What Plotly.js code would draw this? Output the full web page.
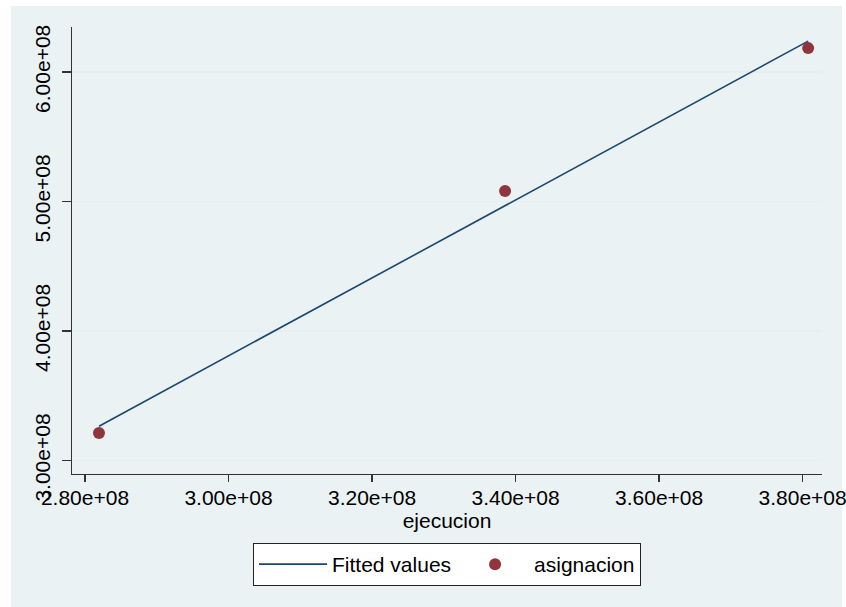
<!DOCTYPE html>
<html>
<head>
<meta charset="utf-8">
<script src="https://cdn.plot.ly/plotly-3.0.1.min.js"></script>
<style>html,body{margin:0;padding:0;background:#fff;}</style>
</head>
<body>
<div id="chart" style="width:846px;height:607px;"></div>
<script>
// Data
const ejecucion = [2.8195e8, 3.3854e8, 3.8077e8];
const asignacion = [3.214e8, 5.081e8, 6.184e8];
const fittedX = [2.8195e8, 3.3854e8, 3.8077e8];
const fittedY = [3.266e8, 4.971e8, 6.238e8];
const xTickVals = [2.8e8, 3.0e8, 3.2e8, 3.4e8, 3.6e8, 3.8e8];
const xTickText = ["2.80e+08", "3.00e+08", "3.20e+08", "3.40e+08", "3.60e+08", "3.80e+08"];
const yTickVals = [3e8, 4e8, 5e8, 6e8];
const yTickText = ["3.00e+08", "4.00e+08", "5.00e+08", "6.00e+08"];

const FONT = "Arial, 'Liberation Sans', sans-serif";
const FS = 21;
const L = 72, R = 24, T = 27, B = 133;
const PW = 846 - L - R, PH = 607 - T - B;
function px(x) { return (x - L) / PW; }
function py(y) { return (607 - B - y) / PH; }

const traces = [
  {
    x: fittedX, y: fittedY, type: "scatter", mode: "lines",
    name: "Fitted values",
    line: {color: "#1a476f", width: 1.6}
  },
  {
    x: ejecucion, y: asignacion, type: "scatter", mode: "markers",
    name: "asignacion",
    marker: {color: "#90353b", size: 12}
  }
];

const layout = {
  width: 846, height: 607,
  margin: {l: L, r: R, t: T, b: B, pad: 0},
  paper_bgcolor: "#ffffff",
  plot_bgcolor: "#ffffff",
  font: {family: FONT, size: FS, color: "#000"},
  showlegend: true,
  shapes: [
    {type: "rect", xref: "paper", yref: "paper", layer: "below",
     x0: px(11), x1: px(842), y0: py(607), y1: py(6),
     fillcolor: "#eaf2f3", line: {width: 0}}
  ],
  xaxis: {
    range: [2.7819e8, 3.827e8],
    tickvals: xTickVals, ticktext: xTickText,
    showline: true, linecolor: "#333", linewidth: 1.2,
    ticks: "outside", ticklen: 7, tickcolor: "#333", tickwidth: 1.2,
    showgrid: false, zeroline: false,
    tickfont: {family: FONT, size: FS, color: "#000"},
    ticklabelstandoff: -2,
    ticklabeloverflow: "allow",
    title: {text: "ejecucion", font: {family: FONT, size: FS, color: "#000"}, standoff: 4}
  },
  yaxis: {
    range: [2.897e8, 6.347e8],
    tickvals: yTickVals, ticktext: yTickText,
    tickangle: -90,
    showline: true, linecolor: "#333", linewidth: 1.2,
    ticks: "outside", ticklen: 9, tickcolor: "#333", tickwidth: 1.2,
    showgrid: true, gridcolor: "#e6eef0", gridwidth: 1.5,
    zeroline: false,
    tickfont: {family: FONT, size: FS, color: "#000"},
    ticklabelstandoff: 3,
    ticklabeloverflow: "allow"
  },
  legend: {
    orientation: "h",
    x: 0.5, xanchor: "center",
    y: py(543), yanchor: "top",
    bgcolor: "#ffffff", bordercolor: "#222", borderwidth: 1,
    font: {family: FONT, size: FS, color: "#000"},
    itemwidth: 68
  }
};

Plotly.newPlot("chart", traces, layout, {displayModeBar: false, staticPlot: true});
</script>
</body>
</html>
